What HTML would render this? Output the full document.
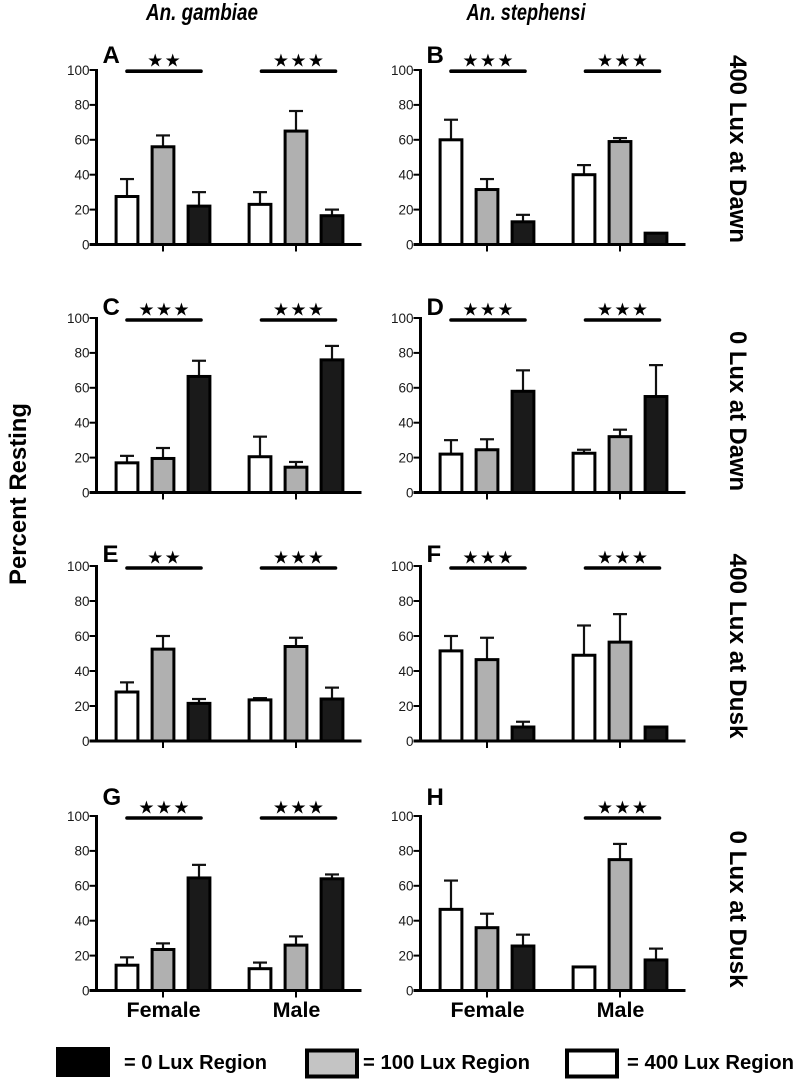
<!DOCTYPE html>
<html lang="en">
<head>
<meta charset="utf-8">
<title>Percent Resting by Light Region</title>
<style>
html,body{margin:0;padding:0;background:#fff;width:799px;height:1085px;overflow:hidden}
svg{display:block;font-family:"Liberation Sans",Arial,sans-serif;filter:blur(0.3px)}
.tick{font-size:13.5px;fill:#1a1a1a}
.bold{font-weight:bold;fill:#000}
</style>
</head>
<body>
<svg id="figure" width="799" height="1085" viewBox="0 0 799 1085" xmlns="http://www.w3.org/2000/svg">
  <text class="bold" x="202" y="20" text-anchor="middle" font-size="23" font-style="italic" textLength="112" lengthAdjust="spacingAndGlyphs">An. gambiae</text>
  <text class="bold" x="526" y="20" text-anchor="middle" font-size="23" font-style="italic" textLength="119" lengthAdjust="spacingAndGlyphs">An. stephensi</text>
  <text class="bold" transform="translate(26,494) rotate(-90)" text-anchor="middle" font-size="24" textLength="182" lengthAdjust="spacingAndGlyphs">Percent Resting</text>
  <text class="bold" transform="translate(730,149) rotate(90)" text-anchor="middle" font-size="24" textLength="188" lengthAdjust="spacingAndGlyphs">400 Lux at Dawn</text>
  <text class="bold" transform="translate(730,411) rotate(90)" text-anchor="middle" font-size="24" textLength="160" lengthAdjust="spacingAndGlyphs">0 Lux at Dawn</text>
  <text class="bold" transform="translate(730,646) rotate(90)" text-anchor="middle" font-size="24" textLength="185" lengthAdjust="spacingAndGlyphs">400 Lux at Dusk</text>
  <text class="bold" transform="translate(730,909) rotate(90)" text-anchor="middle" font-size="24" textLength="157" lengthAdjust="spacingAndGlyphs">0 Lux at Dusk</text>

  <g>
    <rect x="56" y="1047" width="54" height="30" fill="#000"/>
    <text class="bold" x="124" y="1069" font-size="20" textLength="143" lengthAdjust="spacingAndGlyphs">= 0 Lux Region</text>
    <rect x="307" y="1050.5" width="50" height="26" fill="#c4c4c4" stroke="#000" stroke-width="4"/>
    <text class="bold" x="363" y="1069" font-size="20" textLength="167" lengthAdjust="spacingAndGlyphs">= 100 Lux Region</text>
    <rect x="567" y="1050.5" width="50" height="26" fill="#fff" stroke="#000" stroke-width="4"/>
    <text class="bold" x="627" y="1069" font-size="20" textLength="167" lengthAdjust="spacingAndGlyphs">= 400 Lux Region</text>
  </g>
</svg>
<script>
const panelLetters = ['A','B','C','D','E','F','G','H'];
const yTicks = [0,20,40,60,80,100];
const sexCategories = ['Female','Male'];
const lightRegions = ['400-lux','100-lux','0-lux'];
// bar means, ordered female 400/100/0 then male 400/100/0
const meansA = [27.5,56,22,23,65,16.5];
const meansB = [60,31.5,13,40,59,6.5];
const meansC = [17,19.5,66.5,20.5,14.5,76];
const meansD = [22,24.5,58,22.5,32,55];
const meansE = [28,52.5,21.5,23.5,54,24];
const meansF = [51.5,46.5,8,49,56.5,8];
const meansG = [14.5,23.5,64.5,12.5,26,64];
const meansH = [46.5,36,25.5,13.5,75,17.5];
// top of each error bar, in percent
const upperA = [37.5,62.5,30,30,76.5,20];
const upperB = [71.5,37.5,17,45.5,61,6.5];
const upperC = [21,25.5,75.5,32,17.5,84];
const upperD = [30,30.5,70,24.5,36,73];
const upperE = [33.5,60,24,24.5,59,30.5];
const upperF = [60,59,11,66,72.5,8];
const upperG = [19,27,72,16,31,66.5];
const upperH = [63,44,32,13.5,84,24];
// number of significance stars: female, male
const starsA = [2,3];
const starsB = [3,3];
const starsC = [3,3];
const starsD = [3,3];
const starsE = [2,3];
const starsF = [3,3];
const starsG = [3,3];
const starsH = [0,3];

const allMeans = [meansA,meansB,meansC,meansD,meansE,meansF,meansG,meansH];
const allUpper = [upperA,upperB,upperC,upperD,upperE,upperF,upperG,upperH];
const allStars = [starsA,starsB,starsC,starsD,starsE,starsF,starsG,starsH];
const regionFills = ['#ffffff','#b0b0b0','#1a1a1a'];

const NS = 'http://www.w3.org/2000/svg';
const fig = document.getElementById('figure');

function mk(parent, tag, attrs, text){
  const el = document.createElementNS(NS, tag);
  for (const k in attrs) el.setAttribute(k, attrs[k]);
  if (text !== undefined) el.textContent = text;
  parent.appendChild(el);
  return el;
}

function letterBaseline(row, top){
  if (row === 0) return top - 7;
  if (row === 1) return top - 3;
  if (row === 2) return top - 4;
  return top - 11;
}

function drawPanel(index){
  const col = index % 2;
  const row = Math.floor(index / 2);
  const axisX = 96.5 + col * 324;
  const top = row === 3 ? 816 : 70 + row * 248;
  const bottom = top + (row === 2 ? 175 : 174.5);
  const yOf = v => bottom - (v / 100) * (bottom - top);
  const groupCenter = g => axisX + 66.5 + g * 133;
  const barCenter = (g, b) => groupCenter(g) + (b - 1) * 36;
  const barW = 21.8;

  const g = mk(fig, 'g', {});
  
  

  const letter = mk(g, 'text', {class:'bold', x: axisX + 6, y: letterBaseline(row, top), 'font-size': 24}, panelLetters[index]);
  
  

  allMeans[index].forEach((mean, i) => {
    const grp = Math.floor(i / 3);
    const b = i % 3;
    const cx = barCenter(grp, b);
    const up = allUpper[index][i];
    if (up > mean) {
      const stem = mk(g, 'line', {x1: cx, x2: cx, y1: yOf(mean), y2: yOf(up), stroke:'#111', 'stroke-width': 2.2});
      
      
      const cap = mk(g, 'line', {x1: cx - 7, x2: cx + 7, y1: yOf(up), y2: yOf(up), stroke:'#111', 'stroke-width': 2.2});
      
      
    }
    const bar = mk(g, 'rect', {x: cx - barW / 2, y: yOf(mean), width: barW, height: bottom - yOf(mean),
      fill: regionFills[b], stroke:'#000', 'stroke-width': 3});
    
    
  });

  const yAxis = mk(g, 'line', {x1: axisX, x2: axisX, y1: top - 1, y2: bottom + 1.5, stroke:'#000', 'stroke-width': 3});
  
  
  const xAxis = mk(g, 'line', {x1: axisX - 7, x2: axisX + 265, y1: bottom, y2: bottom, stroke:'#000', 'stroke-width': 3});
  
  

  yTicks.forEach(t => {
    const tm = mk(g, 'line', {x1: axisX - 7, x2: axisX, y1: yOf(t), y2: yOf(t), stroke:'#000', 'stroke-width': 2});
    
    
    const lb = mk(g, 'text', {class:'tick', x: axisX - 7, y: yOf(t) + 4.8, 'text-anchor':'end'}, String(t));
    
    
  });

  sexCategories.forEach((name, grp) => {
    const cx = groupCenter(grp);
    const tm = mk(g, 'line', {x1: cx, x2: cx, y1: bottom, y2: bottom + 7, stroke:'#000', 'stroke-width': 2});
    
    
    if (row === 3) {
      const lb = mk(g, 'text', {class:'bold', x: cx + 0.5, y: 1017, 'text-anchor':'middle', 'font-size': 21.5}, name);
      
      
    }
    const n = allStars[index][grp];
    if (n > 0) {
      const sigCx = cx + (grp === 0 ? 1 : 2.5);
      const sigY = top + (row === 0 ? 1.2 : 2);
      const sig = mk(g, 'line', {x1: sigCx - 37, x2: sigCx + 37, y1: sigY, y2: sigY, stroke:'#000', 'stroke-width': 3.6, 'stroke-linecap':'round'});
      
      
      for (let s = 0; s < n; s++) {
        const sx = sigCx + (s - (n - 1) / 2) * 17.5;
        const st = mk(g, 'text', {x: sx, y: sigY - 4.5, 'text-anchor':'middle', 'font-size': 18, fill:'#000',
          style:'font-family:"DejaVu Sans",sans-serif'}, '★');
        
        
      }
    }
  });
}

panelLetters.forEach((_, i) => drawPanel(i));
</script>
</body>
</html>
